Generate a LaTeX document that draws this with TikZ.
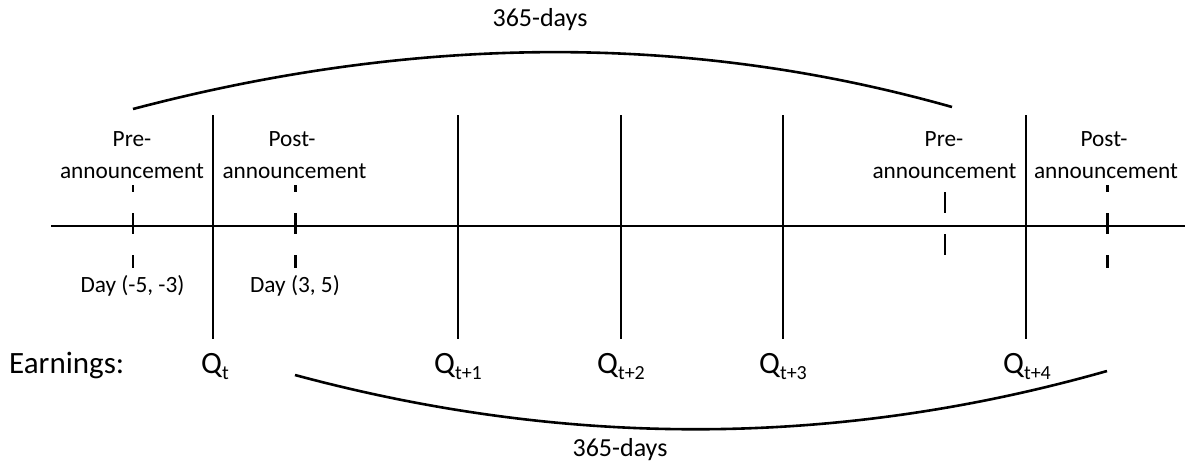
\documentclass[tikz,border=0pt]{standalone}
\usepackage{fontspec}
\setmainfont{Carlito}
\newcommand\qsubtxt[1]{\raisebox{-0.22em}{\fontsize{20}{20}\selectfont #1}}
\begin{document}
\begin{tikzpicture}[x=1pt,y=-1pt,
  lbl/.style={font=\fontsize{23.3}{28}\selectfont, inner sep=0pt, anchor=base},
  big/.style={font=\fontsize{31}{36}\selectfont, inner sep=0pt, anchor=base west},
  days/.style={font=\fontsize{26}{30}\selectfont, inner sep=0pt, anchor=base},
  axisline/.style={line width=2pt},
  qline/.style={line width=1.8pt},
  premark/.style={line width=2pt, dash pattern=on 21pt off 21pt},
  postmark/.style={line width=3pt, dash pattern=on 21pt off 21pt},
  arcline/.style={line width=2.6pt}]
\useasboundingbox (0,0) rectangle (1185,466);

% time axis
\coordinate (axL) at (51,226);
\coordinate (axR) at (1185,226);
\draw[axisline] (axL) -- (axR);

% quarter lines
\foreach \n/\x in {q0/213,q1/458,q2/621,q3/783,q4/1026}{
  \coordinate (\n top) at (\x,115);
  \coordinate (\n bot) at (\x,339);
  \draw[qline] (\n top) -- (\n bot);
}

% event window markers
\coordinate (m1t) at (133,185); \coordinate (m1b) at (133,268);
\coordinate (m2t) at (295,185); \coordinate (m2b) at (295,268);
\coordinate (m3t) at (945,192); \coordinate (m3b) at (945,255);
\coordinate (m4t) at (1107,185); \coordinate (m4b) at (1107,268);
\draw[premark, dash phase=14pt] (m1t) -- (m1b);
\draw[postmark, dash phase=14pt] (m2t) -- (m2b);
\draw[premark] (m3t) -- (m3b);
\draw[postmark, dash phase=14pt] (m4t) -- (m4b);

% labels above axis
\node[lbl] (preA1) at (132,146) {Pre-};
\node[lbl] (preB1) at (132,178) {announcement};
\node[lbl] (postA1) at (292,146) {Post-};
\node[lbl] (postB1) at (294.5,178) {announcement};
\node[lbl] (preA2) at (944,146) {Pre-};
\node[lbl] (preB2) at (944.5,178) {announcement};
\node[lbl] (postA2) at (1104,146) {Post-};
\node[lbl] (postB2) at (1106,178) {announcement};

% day windows
\node[lbl] (day1) at (132.5,292) {Day (-5, -3)};
\node[lbl] (day2) at (295,292) {Day (3, 5)};

% earnings labels
\node[big] (earn) at (9,373) {Earnings:};
\node[big] (Qt) at (201,373) {Q\qsubtxt{t}};
\node[big] (Qt1) at (434,373) {Q\qsubtxt{t+1}};
\node[big] (Qt2) at (597,373) {Q\qsubtxt{t+2}};
\node[big] (Qt3) at (759,373) {Q\qsubtxt{t+3}};
\node[big] (Qt4) at (1003,373) {Q\qsubtxt{t+4}};

% 365-day spans
\coordinate (topL) at (133,109);
\coordinate (topR) at (952,107);
\draw[arcline] (topL) .. controls (418,34) and (690,33) .. (topR);
\node[days] (daysTop) at (540,26) {365-days};

\coordinate (botL) at (295,375);
\coordinate (botR) at (1107,371);
\draw[arcline] (botL) .. controls (566,448) and (836,448) .. (botR);
\node[days] (daysBot) at (620,456) {365-days};
\end{tikzpicture}
\end{document}
